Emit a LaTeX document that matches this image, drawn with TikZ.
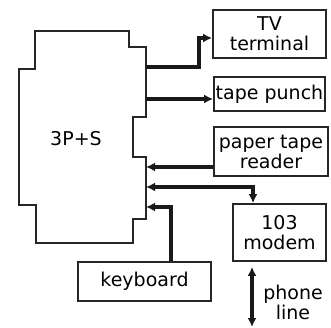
\documentclass[tikz,border=0pt]{standalone}
\usepackage{fontspec}
\setmainfont{DejaVu Sans}
\usetikzlibrary{arrows.meta,calc}
\tikzset{
  box/.style={draw=black!85, line width=1.8pt, rectangle, inner sep=0pt, align=center,
    font=\fontsize{19}{20}\selectfont},
  outline/.style={draw=black!85, line width=1.8pt, line join=miter},
  arr/.style={draw=black!90, line width=3.6pt, -{Latex[length=9pt,width=9pt]}},
  darr/.style={draw=black!90, line width=3.6pt, {Latex[length=9pt,width=9pt]}-{Latex[length=9pt,width=9pt]}},
  lbl/.style={align=center, inner sep=0pt, font=\fontsize{19}{20}\selectfont}
}
\begin{document}
\begin{tikzpicture}[x=1pt,y=-1pt]
\useasboundingbox (0,0) rectangle (331,328);
% main processor outline
\draw[outline] (35,31) -- (129,31) -- (129,47) -- (146,47) -- (146,117) -- (133,117)
  -- (133,157) -- (146,157) -- (146,219) -- (133,219) -- (133,243) -- (36,243)
  -- (36,205) -- (19,205) -- (19,69) -- (35,69) -- cycle;
\node[lbl] (cpu) at (76,139) {3P+S};
% ports on the processor's right edge
\coordinate (pTV) at (146,67);
\coordinate (pTP) at (146,99);
\coordinate (pPR) at (146,167);
\coordinate (pMD) at (146,187);
\coordinate (pKB) at (146,207);
% peripherals
\node[box, minimum width=113pt, minimum height=48pt] (tv) at (269.5,34) {TV\\terminal};
\node[box, minimum width=111pt, minimum height=34pt] (tp) at (269.5,94) {tape punch};
\node[box, minimum width=114pt, minimum height=49pt] (ptr) at (271,151.5) {paper tape\\reader};
\node[box, minimum width=93pt, minimum height=57pt] (md) at (279.5,232.5) {103\\modem};
\node[box, minimum width=133pt, minimum height=39pt] (kb) at (144.5,281.5) {keyboard};
\node[lbl] (pl) at (293,302) {phone\\line};
\coordinate (phoneend) at (252,327);
% connectors
\draw[arr] (pTV) -- (199,67) |- ([yshift=-4pt]tv.west);
\draw[arr] (pTP) -- (pTP -| tp.west);
\draw[arr] (pPR -| ptr.west) -- (pPR);
\draw[darr] (pMD) -| ([xshift=-26.5pt]md.north);
\draw[arr] ([xshift=26.5pt]kb.north) |- (pKB);
\draw[darr] ([xshift=-27.5pt,yshift=-5pt]md.south) -- (phoneend);
\end{tikzpicture}
\end{document}
